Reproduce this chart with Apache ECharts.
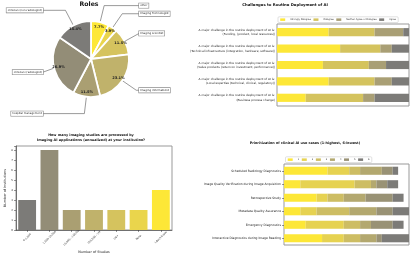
<!DOCTYPE html>
<html><head><meta charset="utf-8">
<script src="https://cdn.jsdelivr.net/npm/echarts@6.0.0/dist/echarts.min.js"></script>
<style>html,body{margin:0;padding:0;background:#fff}#c{width:413px;height:257px}</style>
</head><body><div id="c"></div>
<script>
// ---------- data ----------
const roleNames = ['other','Imaging Technologist','Imaging scientist','Imaging informaticist','hospital management','clinician (radiologist)','clinician (non-radiologist)'];
const roleCounts = [2,1,3,6,3,7,4];

const challengeCats = [
  'A major challenge in the routine deployment of AI is:\n(Funding, (product, local resources))',
  'A major challenge in the routine deployment of AI is:\n(Technical infrastructure (integration, hardware, software))',
  'A major challenge in the routine deployment of AI is:\n(Value products (return on investment, performance))',
  'A major challenge in the routine deployment of AI is:\n(Local expertise (technical, clinical, regulatory))',
  'A major challenge in the routine deployment of AI is:\n(Business process change)'
];
const challengeLevels = ['Strongly Disagree','Disagree','Neither Agree or Disagree','Agree'];
const stronglyDisagree = [9,11,8,9,5];
const disagree = [8,7,8,8,10];
const neitherAgree = [5,2,3,3,2];
const agree = [1,3,4,3,6];

const studyCats = ['0-1,000','1,000-10,000','10,000 - 100,000','100,000 - 1M','1M+','None',"I don't know"];
const studyCounts = [3,8,2,2,2,2,4];

const useCases = ['Scheduled Radiology Diagnostics','Image Quality Verification during Image Acquisition','Retrospective Study','Metadata Quality Assurance','Emergency Diagnostics','Interactive Diagnostics during Image Reading'];
const rankNames = ['1','2','3','4','5','6'];
const rank1 = [8,3,6,3,4,7];
const rank2 = [4,10,2,3,7,4];
const rank3 = [2,3,3,6,3,3];
const rank4 = [4,1,4,5,2,3];
const rank5 = [2,2,5,3,4,1];
const rank6 = [1,2,2,3,2,5];

// ---------- styles ----------
const FONT = 'DejaVu Sans';
const pal7 = ['#fde737','#ead54c','#d5c35e','#c0b26b','#aa9f72','#938d77','#7c7b78'];
const pal4 = ['#fde737','#d4c35e','#a99f75','#7c7b78'];
const pal6 = ['#fde737','#e6d251','#cdbd63','#b3a86f','#999275','#7c7b78'];
const PIE_CX = 91, PIE_CY = 59, PIE_R = 38, LABEL_DX = 48;

const chart = echarts.init(document.getElementById('c'), null, {renderer:'canvas', width:413, height:257});

const challengeSeries = [stronglyDisagree, disagree, neitherAgree, agree].map((d,i)=>({
  type:'bar', name: challengeLevels[i], stack:'c', xAxisIndex:0, yAxisIndex:0,
  data:d, barWidth:'50%', itemStyle:{color:pal4[i]}, silent:true
}));
const rankSeries = [rank1, rank2, rank3, rank4, rank5, rank6].map((d,i)=>({
  type:'bar', name: rankNames[i], stack:'r', xAxisIndex:2, yAxisIndex:2,
  data:d, barWidth:'60%', itemStyle:{color:pal6[i]}, silent:true
}));

const txt = (size, extra) => Object.assign({fontFamily:FONT, fontSize:size, color:'#222'}, extra||{});
const legendBase = {icon:'rect', itemWidth:5, itemHeight:2.5, padding:[1.6,2.2],
  borderColor:'#ccc', borderWidth:0.6, borderRadius:1, backgroundColor:'#fff', selectedMode:false,
  textStyle:txt(2.35,{color:'#333'})};

const option = {
  animation:false,
  backgroundColor:'#fff',
  title:[
    {text:'Roles', left:89, top:1.5, textAlign:'center', padding:0, textStyle:txt(6.2,{fontWeight:'bold',color:'#111'})},
    {text:'Challenges to Routine Deployment of AI', left:285, top:3.2, textAlign:'center', padding:0, textStyle:txt(3.8,{fontWeight:'bold',color:'#111'})},
    {text:'How many imaging studies are processed by\nImaging AI applications (annualized) at your institution?', left:91, top:132.5, textAlign:'center', padding:0, textStyle:txt(3.4,{fontWeight:'bold',color:'#111',lineHeight:5.3})},
    {text:'Prioritization of clinical AI use cases (1-highest, 6-lowest)', left:305, top:142, textAlign:'center', padding:0, textStyle:txt(3.4,{fontWeight:'bold',color:'#111'})}
  ],
  legend:[
    Object.assign({data:challengeLevels, left:278, top:16.8, itemGap:2.5, width:140}, legendBase),
    Object.assign({data:rankNames, left:285.5, top:156.8, itemGap:2.6, width:120}, legendBase)
  ],
  grid:[
    {left:277, top:24, width:132, height:82, show:true, borderColor:'#999', borderWidth:1, backgroundColor:'#fff', outerBoundsMode:'none'},
    {left:16, top:146, width:156, height:84, show:true, borderColor:'#999', borderWidth:1, backgroundColor:'#fff', outerBoundsMode:'none'},
    {left:284, top:164, width:125, height:81, show:true, borderColor:'#999', borderWidth:1, backgroundColor:'#fff', outerBoundsMode:'none'}
  ],
  xAxis:[
    {type:'value', gridIndex:0, min:0, max:23, show:false},
    {type:'category', gridIndex:1, data:studyCats,
     axisLine:{show:true, lineStyle:{color:'#333', width:0.6}},
     axisTick:{show:true, alignWithLabel:true, length:2, lineStyle:{color:'#333', width:0.5}},
     axisLabel:{rotate:45, align:'center', verticalAlign:'middle', margin:7.5, interval:0, ...txt(2.6)},
     name:'Number of Studies', nameLocation:'middle', nameGap:20.5, nameMoveOverlap:false, nameTextStyle:txt(3.4)},
    {type:'value', gridIndex:2, min:0, max:23, show:false}
  ],
  yAxis:[
    {type:'category', gridIndex:0, data:challengeCats, inverse:true,
     axisLine:{show:false}, axisTick:{show:false},
     axisLabel:{margin:2, ...txt(2.9,{lineHeight:4.4})}},
    {type:'value', gridIndex:1, min:0, max:8.4, interval:1,
     axisLine:{show:true, lineStyle:{color:'#333', width:0.6}},
     axisTick:{show:true, length:2, lineStyle:{color:'#333', width:0.5}},
     splitLine:{show:false},
     axisLabel:{margin:3, formatter:v => (Number.isInteger(v) ? String(v) : ''), ...txt(2.6)},
     name:'Number of Institutions', nameLocation:'middle', nameGap:9.5, nameMoveOverlap:false, nameTextStyle:txt(3.4)},
    {type:'category', gridIndex:2, data:useCases, inverse:true,
     axisLine:{show:false},
     axisTick:{show:true, alignWithLabel:true, length:2, lineStyle:{color:'#333', width:0.5}},
     axisLabel:{margin:3, ...txt(3.0)}}
  ],
  series:[
    {
      type:'pie', center:[PIE_CX, PIE_CY], radius:PIE_R, startAngle:90, clockwise:true,
      avoidLabelOverlap:false, silent:true,
      data: roleNames.map((n,i)=>({name:n, value:roleCounts[i], itemStyle:{color:pal7[i]}})),
      itemStyle:{borderColor:'#fff', borderWidth:1.8},
      label:{show:true, position:'outside', formatter:'{b}', ...txt(2.7,{color:'#222'}),
             backgroundColor:'#fff', borderColor:'#888', borderWidth:0.6, padding:[0.8,1.2]},
      labelLine:{show:true, length:17, length2:2, smooth:false, lineStyle:{color:'#555', width:0.6}},
      labelLayout: function (p) {
        const pts = p.labelLinePoints;
        if (!pts) return {};
        const right = pts[1][0] >= PIE_CX;
        const x = right ? PIE_CX + LABEL_DX : PIE_CX - LABEL_DX;
        const y = pts[1][1];
        const bx = right ? Math.min(pts[1][0], x) : Math.max(pts[1][0], x);
        return {x:x, y:y, align: right ? 'left' : 'right', verticalAlign:'middle',
                labelLinePoints:[pts[0], [bx, y], [x, y]]};
      }
    },
    {
      type:'pie', center:[PIE_CX, PIE_CY], radius:PIE_R*1.6, startAngle:90, clockwise:true,
      silent:true, avoidLabelOverlap:false,
      data: roleNames.map((n,i)=>({name:n, value:roleCounts[i]})),
      itemStyle:{color:'rgba(0,0,0,0)', borderWidth:0},
      label:{show:true, position:'inside', formatter: p => p.percent.toFixed(1) + '%', ...txt(3.6,{fontWeight:'bold', color:'#222'})},
      labelLine:{show:false}
    },
    ...challengeSeries,
    {type:'bar', xAxisIndex:1, yAxisIndex:1, silent:true, barWidth:'80%',
     data: studyCounts.map((v,i)=>({value:v, itemStyle:{color:pal7[6-i]}}))},
    ...rankSeries
  ]
};
chart.setOption(option);
</script>
</body></html>
